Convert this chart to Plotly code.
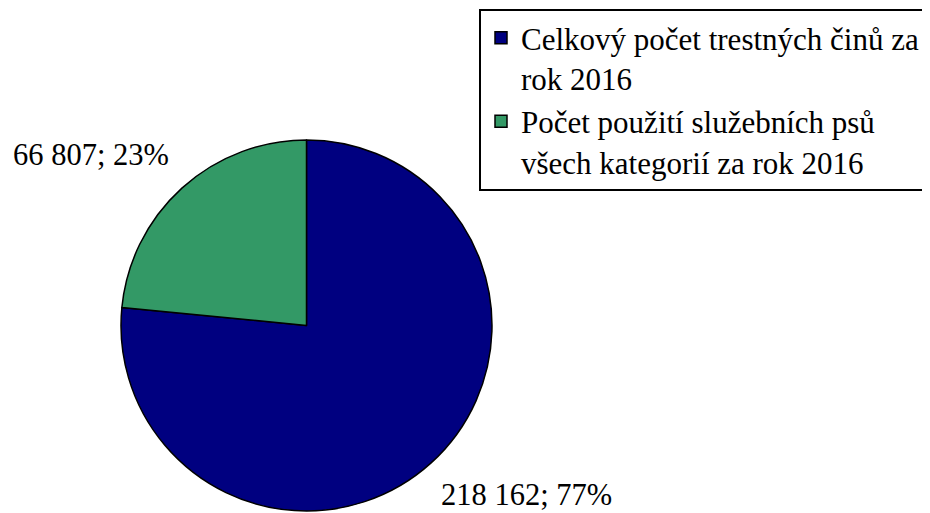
import plotly.graph_objects as go

labels = ["Celkový počet trestných činů za<br>rok 2016",
          "Počet použití služebních psů<br>všech kategorií za rok 2016"]
values = [218162, 66807]
colors = ["#000080", "#339966"]

total = sum(values)
def fmt(v):
    return f"{v:,}".replace(",", " ") + f"; {round(v / total * 100)}%"

W, H = 930, 513
OFF = 8  # page body margin
FONT = "Liberation Serif, Times New Roman, serif"
cx, cy, r = 306.5 - OFF, 325.5 - OFF, 185.5

fig = go.Figure(go.Pie(
    labels=labels, values=values, sort=False, direction="clockwise", rotation=0,
    marker=dict(colors=colors, line=dict(color="black", width=1.5)),
    textinfo="none", hoverinfo="label+value+percent",
    domain=dict(x=[(cx - r) / W, (cx + r) / W], y=[1 - (cy + r) / H, 1 - (cy - r) / H]),
))

fig.add_annotation(x=(11 - OFF) / W, y=1 - (155.5 - OFF) / H, xref="paper", yref="paper",
                   xanchor="left", yanchor="middle", text=fmt(values[1]), showarrow=False,
                   font=dict(family=FONT, size=30.5, color="black"))
fig.add_annotation(x=(439 - OFF) / W, y=1 - (494.5 - OFF) / H, xref="paper", yref="paper",
                   xanchor="left", yanchor="middle", text=fmt(values[0]), showarrow=False,
                   font=dict(family=FONT, size=30.5, color="black"))

fig.update_layout(
    width=W, height=H, margin=dict(l=0, r=0, t=0, b=0),
    paper_bgcolor="white", plot_bgcolor="white",
    font=dict(family=FONT, size=31, color="black"),
    legend=dict(x=(479 - OFF) / W, y=1 - (9 - OFF) / H, xanchor="left", yanchor="top",
                bordercolor="black", borderwidth=2, bgcolor="white", valign="top",
                font=dict(family=FONT, size=31, color="black"),
                itemwidth=30, tracegroupgap=0),
    showlegend=True,
)
fig.write_html("out.html")
